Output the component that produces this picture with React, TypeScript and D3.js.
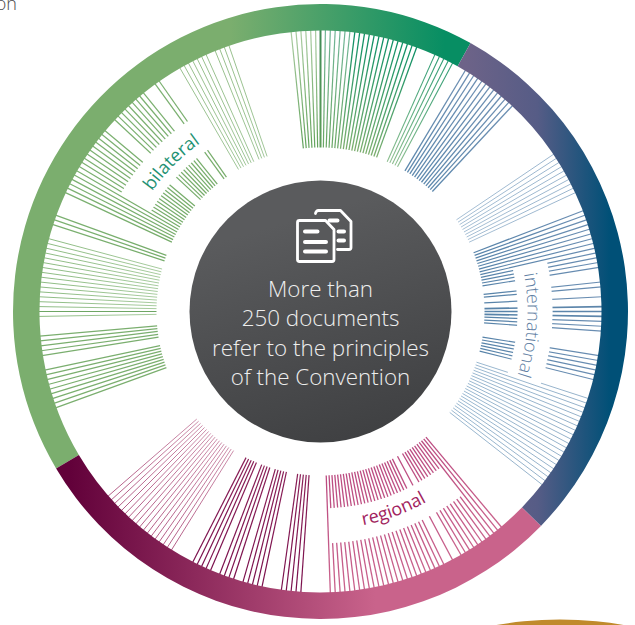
import React from 'react';
import * as d3 from 'd3';

// constants
const width = 635;
const height = 625;
const cx = 320.5;
const cy = 311.5;
const hubRadius = 131;
const spokeInner = 164;
const spokeOuter = 281;
const ringOuter = 307.5;
const gapInner = 197;
const gapOuter = 232;

const topOlive = [354, 355, 356, 357, 358, 359];
const topDark = [0];
const topLight = [1, 2, 3, 4, 5, 6];
const topTeal = [7, 8, 9, 10, 11, 12, 13, 14, 15, 16, 17, 18, 19, 20];
const topThin = [24, 25, 26, 27, 28];
const intlUpper = [31, 32, 33, 34, 35, 36, 37, 38, 39, 40, 41, 42, 43];
const intlThin = [56, 57, 58, 59, 60, 61, 62, 63, 64, 65];
const intlLabelled = [69, 70, 71, 72, 73, 74, 75, 76, 77, 78, 79, 80, 81, 84, 85, 87, 92, 93, 94, 99, 100, 101, 102, 103, 104];
const intlBold = [89, 90, 91];
const intlLower = [108, 109, 110, 111, 112, 113, 114, 115, 116, 117, 118, 119, 120, 121, 122, 123, 124, 125, 126, 127, 128];
const regionalBright = [140, 141, 142, 143, 144, 145, 146, 147, 148, 149, 150, 152, 154, 155, 156, 157, 158, 159, 160, 161, 162, 163, 164, 165, 166, 167, 168, 169, 170, 171, 172, 173, 174, 175, 176, 177, 178];
const regionalDark = [184, 185, 186, 187, 188, 192, 193, 194, 195, 196, 198, 199, 200, 201, 203, 204, 205, 206, 207];
const regionalPale = [212, 213, 214, 215, 216, 217, 218, 219, 220, 221, 222, 223, 224, 225, 226, 227, 228, 229];
const bilateralLow = [250, 251, 252, 253, 254, 255, 256, 257, 258, 261, 262, 263, 264, 265];
const bilateralPale = [269, 271, 272, 273, 274, 275, 276, 277, 278, 279, 280, 281, 282, 283, 284, 285];
const bilateralSingle = [270];
const bilateralMid = [288, 289, 290, 295, 296, 297, 298, 299, 300, 301, 302, 303, 304, 305, 306, 307, 308, 309, 310, 313, 314, 315, 316, 317, 318, 319, 320, 321, 324, 325];
const bilateralThin = [330, 331, 332, 333, 334, 335, 336, 338, 339, 340, 341];

const segmentNames = ['bilateral', 'international', 'regional'];
const segmentEnds = [29.2, 134.2, 239.3];
const hubLines = ['More than', '250 documents', 'refer to the principles', 'of the Convention'];

// colours, one table per kind of thing
const spokeGroups = [
  { id: 'a', angles: topOlive, inner: '#62a35c', outer: '#a9cba0', w: 1.2 },
  { id: 'b', angles: topDark, inner: '#5f9e5a', outer: '#3f8a55', w: 2 },
  { id: 'c', angles: topLight, inner: '#6aa765', outer: '#6fb596', w: 1.2 },
  { id: 'd', angles: topTeal, inner: '#7cae6e', outer: '#0b8f65', w: 1.3 },
  { id: 'e', angles: topThin, inner: '#8dbe8f', outer: '#2c9b72', w: 1.1 },
  { id: 'f', angles: intlUpper, inner: '#5d88ad', outer: '#6d8fb2', w: 1.3 },
  { id: 'g', angles: intlThin, inner: '#9db8d0', outer: '#8fadc8', w: 0.9 },
  { id: 'h', angles: intlLabelled, inner: '#5783a9', outer: '#6a8db2', w: 1.2 },
  { id: 'i', angles: intlBold, inner: '#5783a9', outer: '#5e86ab', w: 1.7 },
  { id: 'j', angles: intlLower, inner: '#8fb0cb', outer: '#8aa9c4', w: 0.9 },
  { id: 'k', angles: regionalBright, inner: '#bb4a80', outer: '#c9628c', w: 1.3 },
  { id: 'l', angles: regionalDark, inner: '#8a1f57', outer: '#7a0f4c', w: 1.2 },
  { id: 'm', angles: regionalPale, inner: '#cd8fab', outer: '#b35c86', w: 1 },
  { id: 'n', angles: bilateralLow, inner: '#7aae6e', outer: '#7aae6e', w: 1.25 },
  { id: 'o', angles: bilateralPale, inner: '#a8cc9f', outer: '#8dbb82', w: 1 },
  { id: 'p', angles: bilateralSingle, inner: '#6ea664', outer: '#6ea664', w: 1.2 },
  { id: 'q', angles: bilateralMid, inner: '#76ac6a', outer: '#7bb070', w: 1.25 },
  { id: 'r', angles: bilateralThin, inner: '#a0c698', outer: '#98c08d', w: 1 },
];

const ringFills = [
  { id: 'ring-green', x1: 230, x2: 445, stops: [[0, '#7bae6e'], [1, '#078e63']] },
  { id: 'ring-blue', x1: 465, x2: 610, stops: [[0, '#6d6388'], [0.5, '#565c86'], [1, '#005077']] },
  { id: 'ring-pink', x1: 70, x2: 375, stops: [[0, '#62013a'], [1, '#c9638b']] },
];

const labelGaps = [
  { from: 300.5, to: 326.5 },
  { from: 77.6, to: 108.5 },
  { from: 142.5, to: 177.5 },
];

const labels = [
  { text: 'bilateral', mid: 315, r: 207, cw: true, fill: '#1f9273', size: 18, weight: 400 },
  { text: 'international', mid: 93.7, r: 207, cw: true, fill: '#6180a3', size: 18, weight: 300 },
  { text: 'regional', mid: 159.8, r: 218, cw: false, fill: '#a11e5e', size: 18, weight: 400 },
];

const angle = d3.scaleLinear().domain([0, 360]).range([0, 2 * Math.PI]);

const spokePath = d3.lineRadial<number[]>().angle(d => angle(d[0])).radius(d => d[1]);

const ringArc = d3.arc<{ startAngle: number; endAngle: number }>()
  .innerRadius(spokeOuter)
  .outerRadius(ringOuter);

const gapArc = d3.arc<{ startAngle: number; endAngle: number }>()
  .innerRadius(gapInner)
  .outerRadius(gapOuter);

// circle for textPath, going round the way the word reads
const labelPath = (mid: number, r: number, cw: boolean) => {
  const p = d3.path();
  const a0 = angle(mid + (cw ? -60 : 60)) - Math.PI / 2;
  const a1 = angle(mid + (cw ? 60 : -60)) - Math.PI / 2;
  p.arc(0, 0, r, a0, a1, !cw);
  return p.toString();
};

const App = () => {
  const ringStarts = [segmentEnds[2] - 360, segmentEnds[0], segmentEnds[1]];
  const ringSpans = segmentEnds.map((d, i) => ({
    startAngle: angle(ringStarts[i]),
    endAngle: angle(d),
    fill: ringFills[i].id,
    name: segmentNames[i],
  }));

  return (
    <svg width={width} height={height} style={{ position: 'absolute', left: 0, top: 0, fontFamily: '"Open Sans", sans-serif' }}>
      <defs>
        {ringFills.map(d => (
          <linearGradient key={d.id} id={d.id} gradientUnits="userSpaceOnUse" x1={d.x1 - cx} x2={d.x2 - cx} y1={0} y2={0}>
            {d.stops.map(s => (
              <stop key={s[0]} offset={s[0]} stopColor={s[1] as string} />
            ))}
          </linearGradient>
        ))}
        {spokeGroups.map(g => (
          <radialGradient key={g.id} id={`spoke-${g.id}`} gradientUnits="userSpaceOnUse" cx={0} cy={0} r={spokeOuter}>
            <stop offset={spokeInner / spokeOuter} stopColor={g.inner} />
            <stop offset="1" stopColor={g.outer} />
          </radialGradient>
        ))}
        <linearGradient id="hub" x1="0.35" y1="0" x2="0.65" y2="1">
          <stop offset="0.15" stopColor="#5a5b5d" />
          <stop offset="1" stopColor="#3f4042" />
        </linearGradient>
        {labels.map(l => (
          <path key={l.text} id={`label-${l.text}`} d={labelPath(l.mid, l.r, l.cw)} fill="none" />
        ))}
      </defs>

      <text x={17} y={10} textAnchor="end" fontSize={18} fontWeight={300} fill="#4a4a4a">on</text>
      <circle cx={560} cy={989.5} r={370} fill="#c08a2c" />

      <g transform={`translate(${cx},${cy})`}>
        {spokeGroups.map(g => (
          <g key={g.id}>
            {g.angles.map(a => (
              <path
                key={a}
                d={spokePath([[a, spokeInner], [a, spokeOuter + 1]]) as string}
                fill="none"
                stroke={`url(#spoke-${g.id})`}
                strokeWidth={g.w}
              />
            ))}
          </g>
        ))}

        {labelGaps.map(d => (
          <path key={d.from} d={gapArc({ startAngle: angle(d.from), endAngle: angle(d.to) }) as string} fill="#fff" />
        ))}

        {ringSpans.map(d => (
          <path key={d.name} d={ringArc(d) as string} fill={`url(#${d.fill})`} />
        ))}

        {labels.map(l => (
          <text key={l.text} fontSize={l.size} fontWeight={l.weight} fill={l.fill} textAnchor="middle">
            <textPath href={`#label-${l.text}`} startOffset="50%">{l.text}</textPath>
          </text>
        ))}

        <circle r={hubRadius} fill="url(#hub)" />

        {/* back and front sheet of the document icon */}
        <g fill="none" stroke="#fff" strokeWidth={2.8} strokeLinejoin="round" strokeLinecap="round">
          <path d="M-5,-98 a3,3 0 0 1 3,-3 H20 L30.5,-90 V-64 a2,2 0 0 1 -2,2 H17" />
          <path d="M-21,-91 H5 L13.5,-82 V-52 a2,2 0 0 1 -2,2 H-21 a2,2 0 0 1 -2,-2 V-89 a2,2 0 0 1 2,-2 Z" fill="#58595b" />
        </g>
        <g stroke="#fff" strokeWidth={4} strokeLinecap="round">
          <path d="M-15.5,-80 H-3 M-15.5,-69.5 H5.5 M-15.5,-60 H5.5 M18,-80 H23.5 M18,-71 H23.5 M9,-91 H17" />
        </g>

        {hubLines.map((t, i) => (
          <text key={t} y={-14.5 + i * 29.3} textAnchor="middle" fontSize={22.4} fontWeight={300} fill="#eeeeee">{t}</text>
        ))}
      </g>
    </svg>
  );
};

export default App;
